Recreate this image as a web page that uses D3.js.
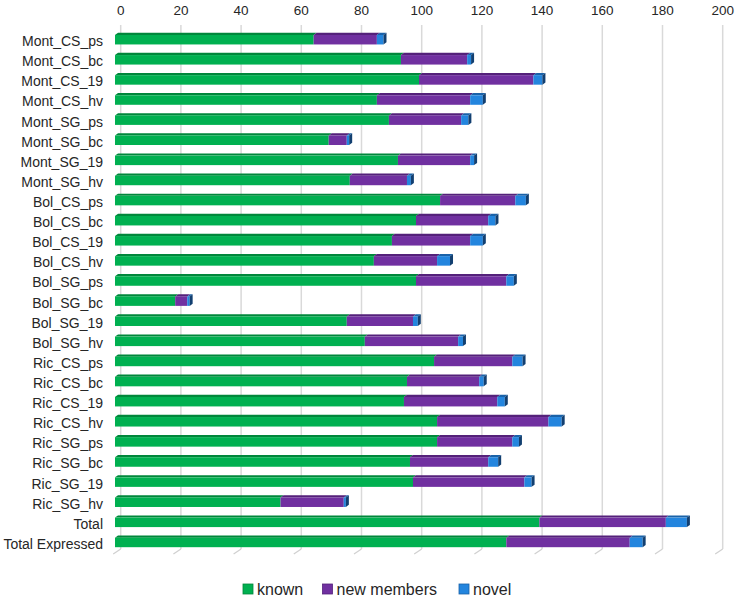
<!DOCTYPE html>
<html lang="en">
<head>
<meta charset="utf-8">
<title>Known, new members and novel</title>
<script src="https://cdn.jsdelivr.net/npm/d3@7"></script>
<style>
	body { margin: 0; background: white; font-family: "Liberation Sans", Arial, sans-serif; }
	.cat { font-size: 14px; fill: #262626; }
	.tick-lab { font-size: 13.5px; fill: #262626; }
	.leg { font-size: 16px; fill: #262626; }
</style>
</head>
<body>
<svg id="chart" width="737" height="598"></svg>
<script>
// data
var categories = ["Mont_CS_ps","Mont_CS_bc","Mont_CS_19","Mont_CS_hv","Mont_SG_ps","Mont_SG_bc","Mont_SG_19","Mont_SG_hv",
	"Bol_CS_ps","Bol_CS_bc","Bol_CS_19","Bol_CS_hv","Bol_SG_ps","Bol_SG_bc","Bol_SG_19","Bol_SG_hv",
	"Ric_CS_ps","Ric_CS_bc","Ric_CS_19","Ric_CS_hv","Ric_SG_ps","Ric_SG_bc","Ric_SG_19","Ric_SG_hv",
	"Total","Total Expressed"]
var known      = [66, 95, 101, 87, 91, 71, 94, 78, 108, 100, 92, 86, 100, 20, 77, 83, 106, 97, 96, 107, 107, 98, 99, 55, 141, 130]
var newMembers = [21, 22, 38, 31, 24, 6, 24, 19, 25, 24, 26, 21, 30, 4, 22, 31, 26, 24, 31, 37, 25, 26, 37, 21, 42, 41]
var novel      = [2.2, 1.3, 3, 4.2, 2.4, 0.8, 1.3, 1.3, 3.5, 2.4, 4.2, 4.3, 2.5, 0.8, 1.6, 1.6, 3.4, 1.5, 2.5, 4.4, 2.2, 3.3, 2.4, 0.7, 7, 4.3]
var seriesNames = ["known", "new members", "novel"]
var ticks = [0, 20, 40, 60, 80, 100, 120, 140, 160, 180, 200]

var colors = {
	"known":       {front: "#00b050", top: "#00873b", side: "#006e30"},
	"new members": {front: "#7030a0", top: "#54217a", side: "#43195f"},
	"novel":       {front: "#2385de", top: "#1a62a8", side: "#123f70"}
}

var svg = d3.select("#chart")

// back wall scale (gridlines) and front face offset
var x = d3.scaleLinear().domain([0, 200]).range([120.7, 722.7])
var frontDx = -5.7
var depthX = 3, depthY = -2.2
var barH = 9.5
var floorY = 549, floorDx = -7.5, floorDy = 5

var y = d3.scaleBand().domain(categories).range([29.65, 552.5]).paddingInner(0.5).paddingOuter(0.25)

// gridlines with the slanted floor part
var grid = svg.append("g")
ticks.forEach(function(t) {
	grid.append("line").attr("x1", x(t)).attr("x2", x(t)).attr("y1", 25).attr("y2", floorY)
		.attr("stroke", "#d9d9d9").attr("stroke-width", 1.5)
	grid.append("line").attr("x1", x(t)).attr("x2", x(t) + floorDx).attr("y1", floorY).attr("y2", floorY + floorDy)
		.attr("stroke", "#d0d0d0").attr("stroke-width", 1.2)
})

// top axis labels
svg.append("g").selectAll("text").data(ticks).enter().append("text")
	.attr("class", "tick-lab")
	.attr("x", function(d) { return x(d) })
	.attr("y", 15)
	.attr("text-anchor", "middle")
	.text(function(d) { return d })

// stacked rows
var rows = categories.map(function(c, i) {
	return {cat: c, vals: [known[i], newMembers[i], novel[i]]}
})

var fx = function(v) { return x(v) + frontDx }

rows.forEach(function(r) {
	var cy = y(r.cat) + y.bandwidth() / 2
	var top = cy - barH / 2
	var g = svg.append("g")
	var start = 0
	r.vals.forEach(function(v, k) {
		var c = colors[seriesNames[k]]
		var x0 = fx(start), x1 = fx(start + v)
		// top face
		g.append("path")
			.attr("d", "M" + x0 + "," + top + "L" + (x0 + depthX) + "," + (top + depthY) +
				"L" + (x1 + depthX) + "," + (top + depthY) + "L" + x1 + "," + top + "Z")
			.attr("fill", c.top)
		// front face
		g.append("rect").attr("x", x0).attr("y", top).attr("width", Math.max(x1 - x0, 0)).attr("height", barH)
			.attr("fill", c.front)
		if (k == r.vals.length - 1) {
			g.append("path")
				.attr("d", "M" + x1 + "," + top + "L" + (x1 + depthX) + "," + (top + depthY) +
					"L" + (x1 + depthX) + "," + (top + depthY + barH) + "L" + x1 + "," + (top + barH) + "Z")
				.attr("fill", c.side)
		}
		start += v
	})
	svg.append("text").attr("class", "cat")
		.attr("x", 103).attr("y", cy + 1.5)
		.attr("dy", "0.35em")
		.attr("text-anchor", "end")
		.text(r.cat)
})

// legend
var legX = [243, 322.5, 459]
var leg = svg.append("g")
seriesNames.forEach(function(s, i) {
	leg.append("rect").attr("x", legX[i]).attr("y", 584).attr("width", 10).attr("height", 10)
		.attr("fill", colors[s].front).attr("stroke", colors[s].top).attr("stroke-width", 0.8)
	leg.append("text").attr("class", "leg").attr("x", legX[i] + 14).attr("y", 594.5).text(s)
})
</script>
</body>
</html>
